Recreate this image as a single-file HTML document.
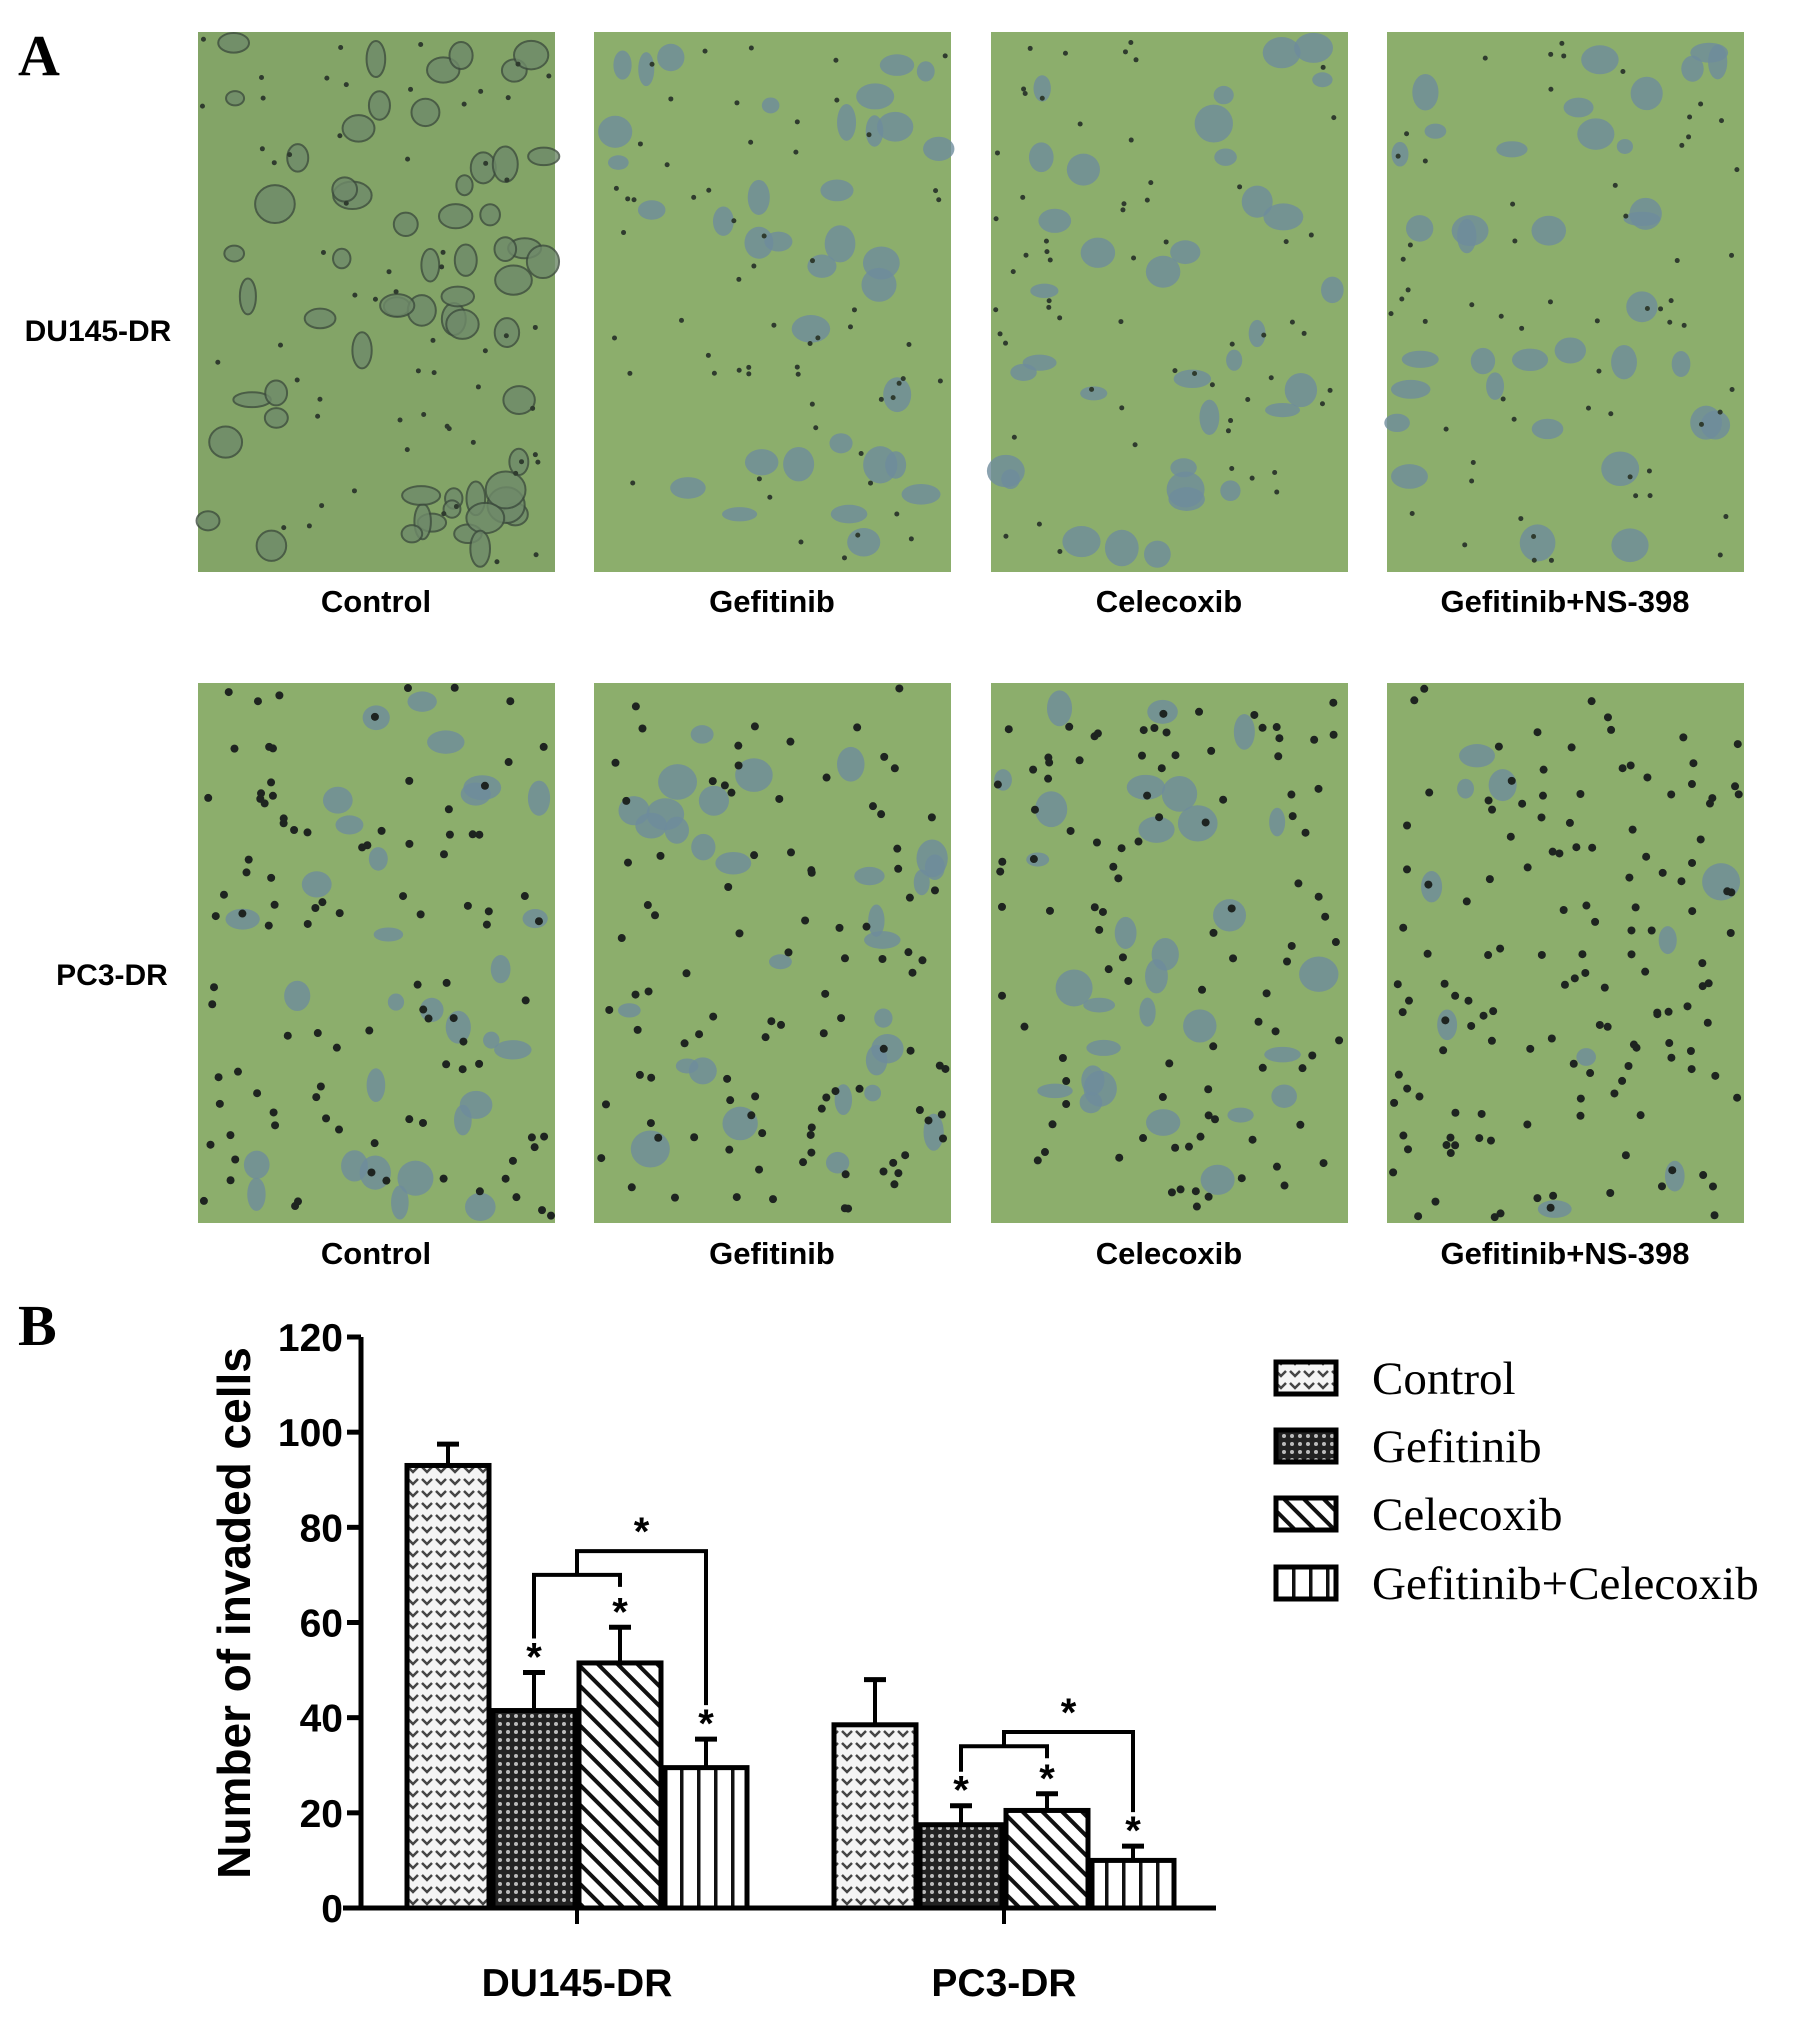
<!DOCTYPE html>
<html><head><meta charset="utf-8"><style>
html,body{margin:0;padding:0;background:#fff;}
svg{display:block;}
</style></head><body>
<svg id="fig" width="1795" height="2021" viewBox="0 0 1795 2021" xmlns="http://www.w3.org/2000/svg">
<defs>
<pattern id="pCtrl" width="14" height="12" patternUnits="userSpaceOnUse">
<rect width="14" height="12" fill="#f4f4f4"/>
<path d="M2 3 L7 8 L12 3" stroke="#444" stroke-width="2.5" fill="none"/>
</pattern>
<pattern id="pGef" width="8" height="8" patternUnits="userSpaceOnUse">
<rect width="8" height="8" fill="#222"/>
<circle cx="4" cy="4" r="2" fill="#bbb"/>
</pattern>
<pattern id="pCel" width="14" height="14" patternUnits="userSpaceOnUse" patternTransform="rotate(-45)">
<rect width="14" height="14" fill="#fff"/>
<rect x="0" y="0" width="4" height="14" fill="#111"/>
</pattern>
<pattern id="pCombo" width="17" height="10" patternUnits="userSpaceOnUse">
<rect width="17" height="10" fill="#fff"/>
<rect x="0" y="0" width="3.5" height="10" fill="#111"/>
</pattern>
</defs>
<text x="18" y="75" font-family="Liberation Serif, serif" font-weight="bold" font-size="58">A</text>
<text x="18" y="1345" font-family="Liberation Serif, serif" font-weight="bold" font-size="58">B</text>
<text x="98" y="341" text-anchor="middle" font-family="Liberation Sans, sans-serif" font-weight="bold" font-size="30">DU145-DR</text>
<text x="112" y="985" text-anchor="middle" font-family="Liberation Sans, sans-serif" font-weight="bold" font-size="30">PC3-DR</text>
<g id="photos"></g>
<g id="chart"></g>
</svg>
<script>
// Micrograph panels (decorative)
const panelXs=[198,594,991,1387];
const panelLabels=["Control","Gefitinib","Celecoxib","Gefitinib+NS-398"];
const rowYs=[32,683];
const photos=document.getElementById('photos');
const NS='http://www.w3.org/2000/svg';
let seed=7;
function rnd(){seed=(seed*16807)%2147483647;return seed/2147483647;}
rowYs.forEach((ry,ri)=>{
  panelXs.forEach((px,pi)=>{
    const g=document.createElementNS(NS,'g');
    
    
    const r=document.createElementNS(NS,'rect');
    r.setAttribute('x',px);r.setAttribute('y',ry);r.setAttribute('width',357);r.setAttribute('height',540);
    r.setAttribute('fill',ri===0&&pi===0?'#83a467':'#8cae6c');
    g.appendChild(r);
    const nb=ri===0?(pi===0?60:35):(pi===3?10:30);
    for(let i=0;i<nb;i++){
      const e=document.createElementNS(NS,'ellipse');
      e.setAttribute('cx',px+10+rnd()*337);e.setAttribute('cy',ry+10+rnd()*520);
      e.setAttribute('rx',8+rnd()*12);e.setAttribute('ry',7+rnd()*12);
      e.setAttribute('fill',ri===0&&pi===0?'#6f8a6a':'#6e8c9c');e.setAttribute('opacity','0.8');
      if(ri===0&&pi===0){e.setAttribute('stroke','#3d4c3e');e.setAttribute('stroke-width','2');}
      g.appendChild(e);
    }
    const nd=ri===0?60:(pi===3?140:100);
    for(let i=0;i<nd;i++){
      const c=document.createElementNS(NS,'circle');
      c.setAttribute('cx',px+4+rnd()*349);c.setAttribute('cy',ry+4+rnd()*532);
      c.setAttribute('r',ri===0?2.5:4);c.setAttribute('fill',ri===0?'#2f3b2e':'#1e2420');
      g.appendChild(c);
    }
    photos.appendChild(g);
    const t=document.createElementNS(NS,'text');
    t.setAttribute('x',px+178);t.setAttribute('y',ry+(ri===0?580:581));
    t.setAttribute('text-anchor','middle');t.setAttribute('font-family','Liberation Sans, sans-serif');
    t.setAttribute('font-weight','bold');t.setAttribute('font-size','31');
    t.textContent=panelLabels[pi];
    
    
    photos.appendChild(t);
  });
});

// Bar chart data
const groups=["DU145-DR","PC3-DR"];
const seriesNames=["Control","Gefitinib","Celecoxib","Gefitinib+Celecoxib"];
const meansDU=[93,41.5,51.5,29.5];
const meansPC=[38.5,17.5,20.5,10];
const errDU=[4.5,8,7.5,6];
const errPC=[9.5,4,3.5,3];
const starDU=[false,true,true,true];
const starPC=[false,true,true,true];
const bracketLowDU=70, bracketHighDU=75;
const bracketLowPC=34, bracketHighPC=37;
const yTicks=[0,20,40,60,80,100,120];

const chart=document.getElementById('chart');
const x0=361,yBase=1908,yTop=1337,yMax=120;
const y=v=>yBase-(v/yMax)*(yBase-yTop);
const groupCenter=[577,1004];
const barW=86;
const barX=(gi,si)=>groupCenter[gi]-2*barW+si*barW;
const fills=['url(#pCtrl)','url(#pGef)','url(#pCel)','url(#pCombo)'];
function el(tag,attrs,parent){const e=document.createElementNS(NS,tag);for(const k in attrs)e.setAttribute(k,attrs[k]);(parent||chart).appendChild(e);return e;}

const means=[meansDU,meansPC],errs=[errDU,errPC],stars=[starDU,starPC];
means.forEach((m,gi)=>{
  m.forEach((v,si)=>{
    const bx=barX(gi,si);
    const er=el('line',{x1:bx+barW/2,x2:bx+barW/2,y1:y(v),y2:y(v+errs[gi][si]),stroke:'#000','stroke-width':4});
    
    
    const cap=el('line',{x1:bx+barW/2-11,x2:bx+barW/2+11,y1:y(v+errs[gi][si]),y2:y(v+errs[gi][si]),stroke:'#000','stroke-width':5});
    
    
    const r=el('rect',{x:bx+2,y:y(v),width:barW-4,height:yBase-y(v),fill:fills[si],stroke:'#000','stroke-width':5});
    
    
    if(stars[gi][si]){
      const s=el('text',{x:bx+barW/2,y:y(v+errs[gi][si])-2,'text-anchor':'middle','font-family':'Liberation Sans, sans-serif','font-weight':'bold','font-size':40});
      s.textContent='*';
      
      
    }
  });
});
// brackets
[[bracketLowDU,bracketHighDU],[bracketLowPC,bracketHighPC]].forEach((b,gi)=>{
  const cg=barX(gi,1)+barW/2,cc=barX(gi,2)+barW/2,cm=barX(gi,3)+barW/2;
  const m=means[gi],e=errs[gi];
  const lo=el('path',{d:`M${cg} ${y(m[1]+e[1])-34} V${y(b[0])} H${cc} V${y(b[0])+12}`,fill:'none',stroke:'#000','stroke-width':4});
  
  
  const mid=(cg+cc)/2;
  const hi=el('path',{d:`M${mid} ${y(b[0])} V${y(b[1])} H${cm} V${y(m[3]+e[3])-34}`,fill:'none',stroke:'#000','stroke-width':4});
  
  
  const s=el('text',{x:(mid+cm)/2,y:y(b[1])-6,'text-anchor':'middle','font-family':'Liberation Sans, sans-serif','font-weight':'bold','font-size':40});
  s.textContent='*';
  
  
});
// axes
const ya=el('line',{x1:x0,x2:x0,y1:yTop,y2:yBase,stroke:'#000','stroke-width':5});


const xa=el('line',{x1:343,x2:1216,y1:yBase,y2:yBase,stroke:'#000','stroke-width':5});


yTicks.forEach(t=>{
  const tk=el('line',{x1:x0-14,x2:x0,y1:y(t),y2:y(t),stroke:'#000','stroke-width':5});
  
  
  const tl=el('text',{x:x0-18,y:y(t)+14,'text-anchor':'end','font-family':'Liberation Sans, sans-serif','font-weight':'bold','font-size':39});
  tl.textContent=t;
  
  
});
groups.forEach((g,gi)=>{
  const tk=el('line',{x1:groupCenter[gi],x2:groupCenter[gi],y1:yBase,y2:yBase+16,stroke:'#000','stroke-width':4});
  
  
  const tl=el('text',{x:groupCenter[gi],y:1996,'text-anchor':'middle','font-family':'Liberation Sans, sans-serif','font-weight':'bold','font-size':39});
  tl.textContent=g;
  
  
});
const yl=el('text',{x:0,y:0,transform:'translate(250,1613) rotate(-90)','text-anchor':'middle','font-family':'Liberation Sans, sans-serif','font-weight':'bold','font-size':46});
yl.textContent='Number of invaded cells';


// legend
const legY=[1378,1446,1514,1583];
seriesNames.forEach((n,si)=>{
  const g=el('g',{});
  
  
  el('rect',{x:1276,y:legY[si]-16,width:60,height:32,fill:fills[si],stroke:'#000','stroke-width':5},g);
  const t=el('text',{x:1372,y:legY[si]+16,'font-family':'Liberation Serif, serif','font-size':47},g);
  t.textContent=n;
});
</script>
</body></html>
